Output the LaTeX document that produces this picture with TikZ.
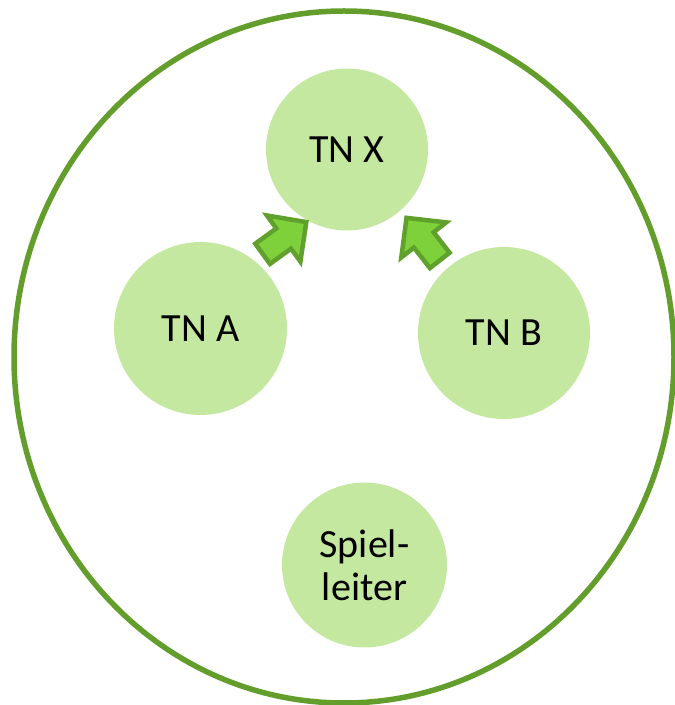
\documentclass[tikz,border=0pt]{standalone}
\usepackage{fontspec}
\setmainfont{Carlito}
\definecolor{rand}{HTML}{639E2C}
\definecolor{kreisfill}{HTML}{C4E8A0}
\definecolor{pfeilfill}{HTML}{7FD13B}
\definecolor{pfeilrand}{HTML}{60A02C}
\begin{document}
\begin{tikzpicture}[x=1pt,y=1pt,
        kreis/.style={circle,fill=kreisfill,inner sep=0pt,align=center,
            font=\fontsize{40}{43}\selectfont}]
        \useasboundingbox (0,0) rectangle (675,705);
        %Spielfeld
            \draw[rand,line width=5.5pt] (344,348) ellipse [x radius=330, y radius=346];
        %Teilnehmer
        \node[kreis,minimum size=162pt] (tnx) at (347,555.5) {TN X};
        \node[kreis,minimum size=173pt] (tna) at (200.5,376.5) {TN A};
        \node[kreis,minimum size=172pt] (tnb) at (504,372) {TN B};
        \node[kreis,minimum size=165pt] (sl) at (364.5,140) {Spiel-\\leiter};
        %Pfeile
        \foreach \x/\y/\w in{
        261/450/36, 441/443/128
        }{\filldraw[pfeilfill,draw=pfeilrand,line width=4.5pt,line join=miter,shift={(\x,\y)},rotate=\w]
            (2,-12.5)--(28,-12.5)--(28,-28.5)--(56,0)--(28,28.5)--(28,12.5)--(2,12.5)--cycle;}
        \end{tikzpicture}
\end{document}
